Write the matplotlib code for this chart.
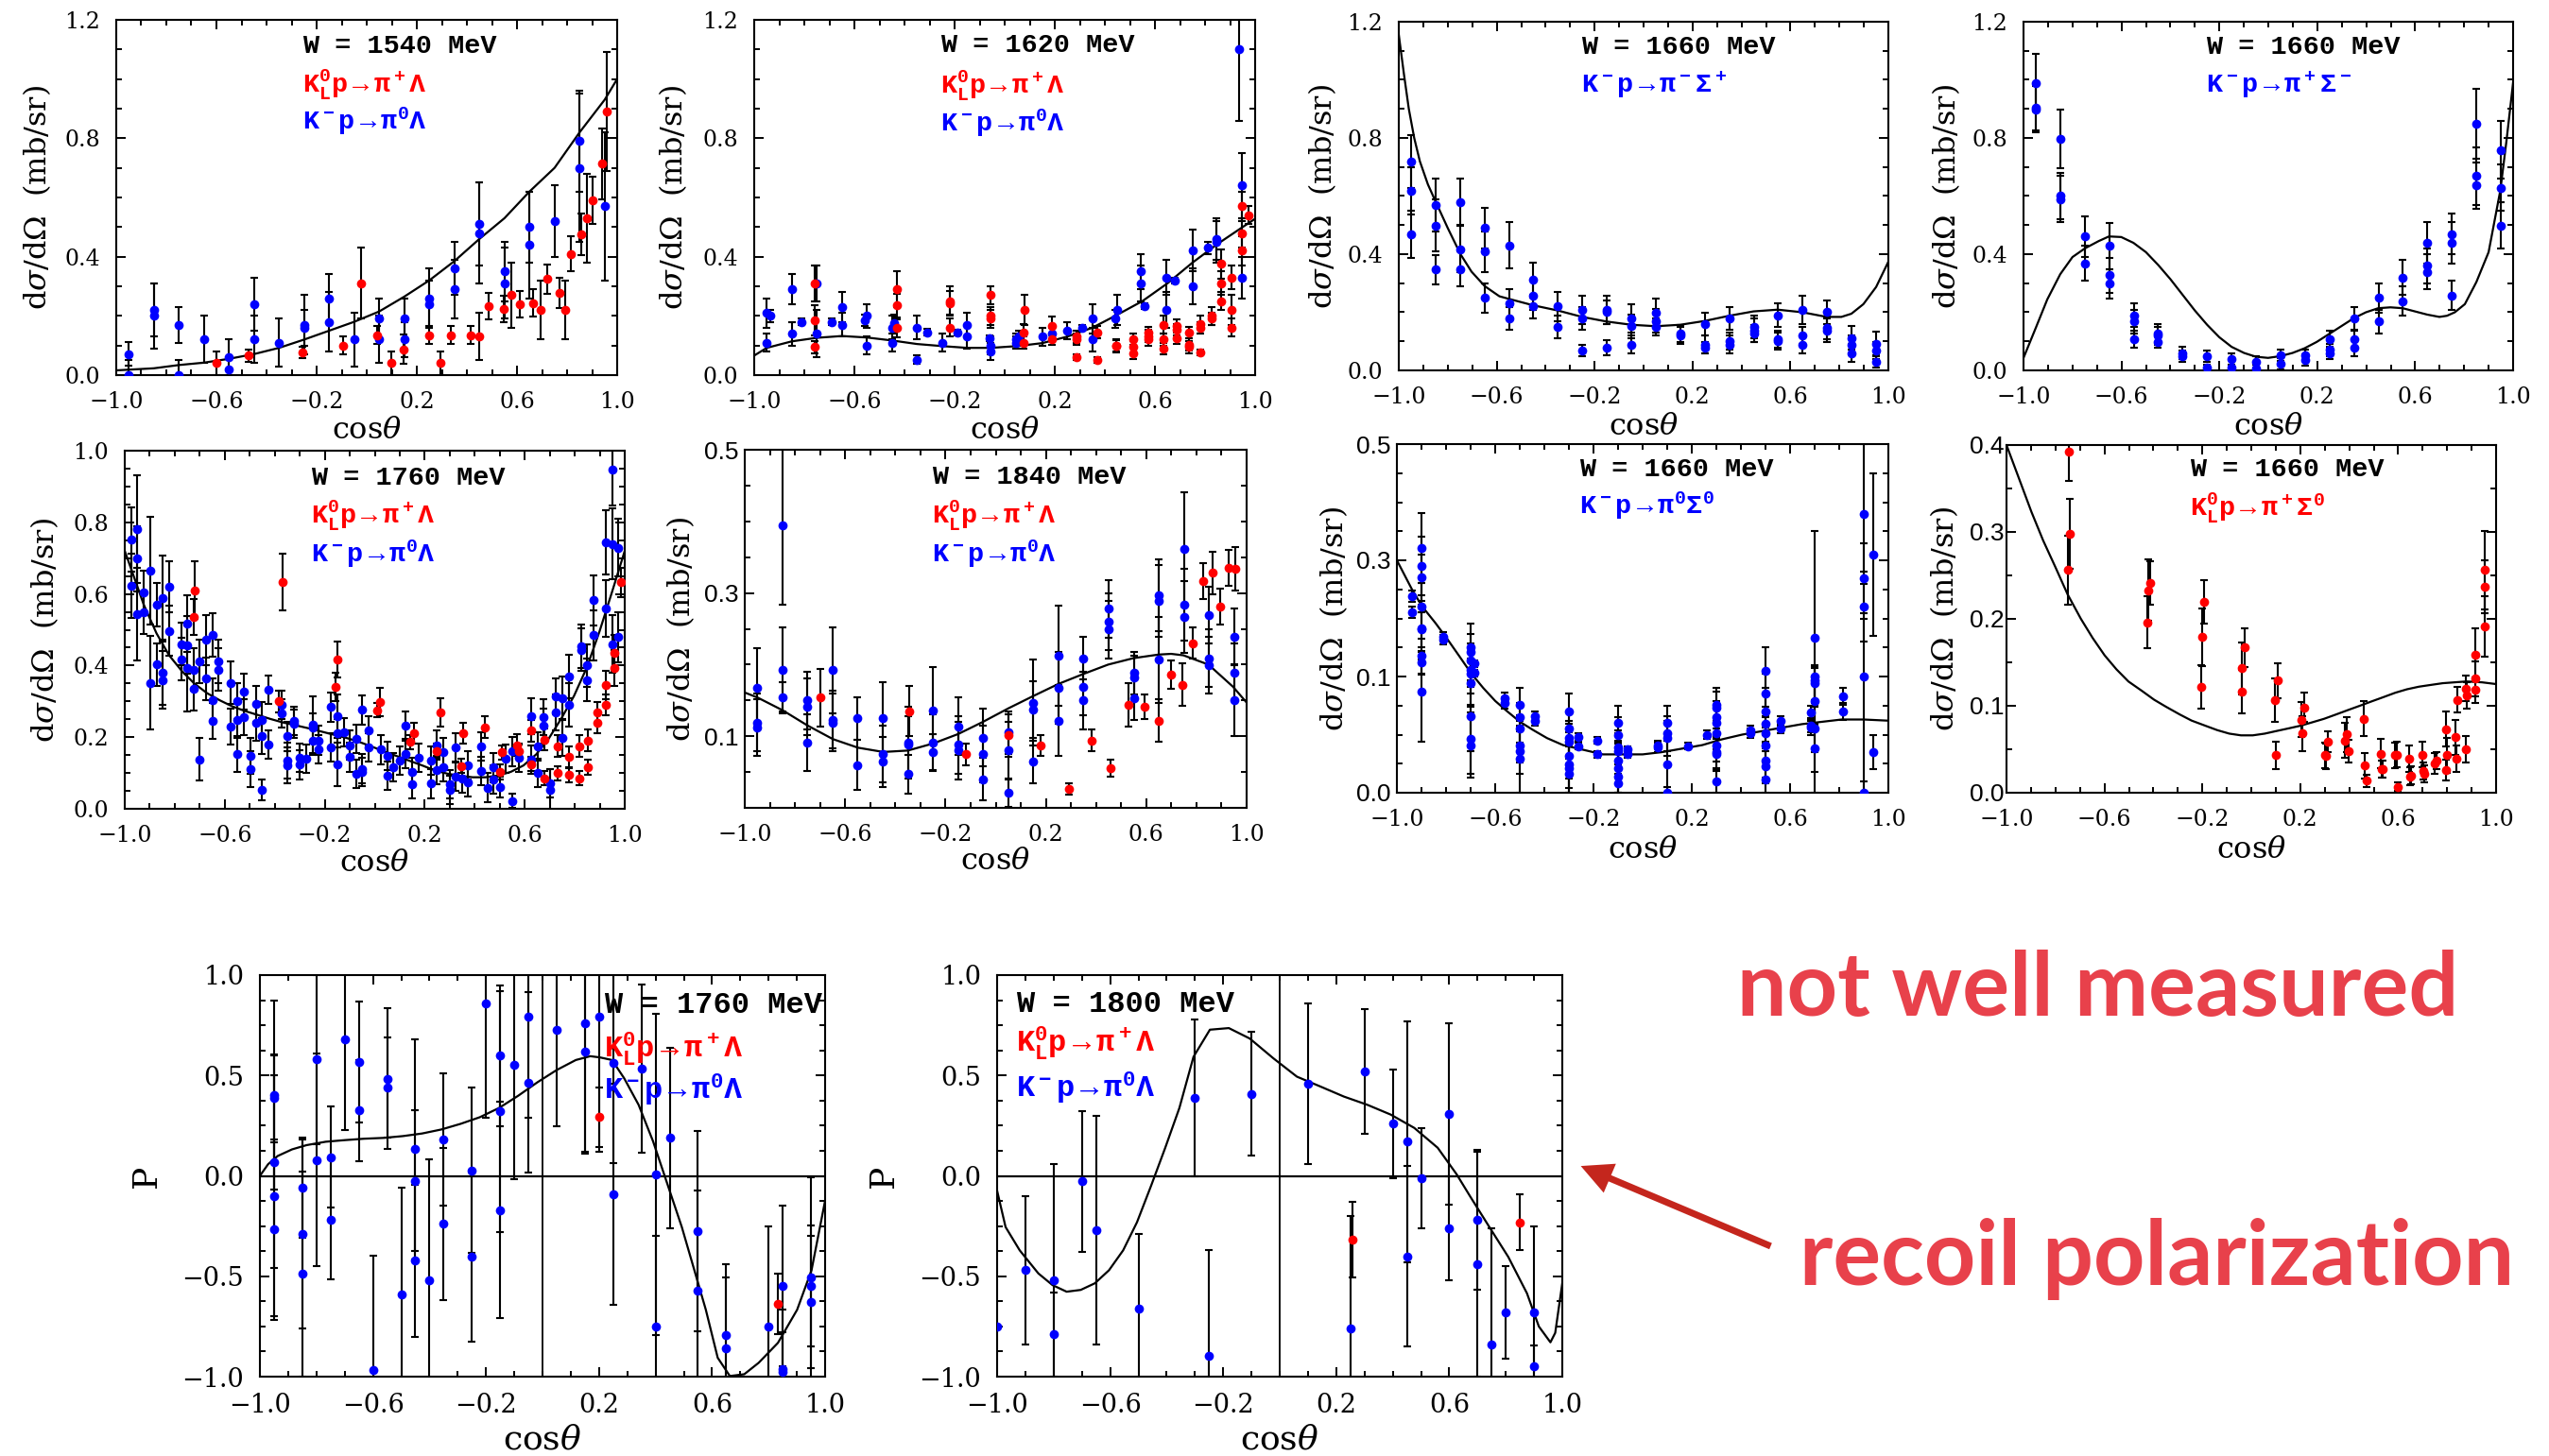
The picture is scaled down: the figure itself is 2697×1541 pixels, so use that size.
import matplotlib
matplotlib.use("Agg")
import matplotlib.pyplot as plt
import numpy as np
from matplotlib.patches import FancyArrowPatch
from matplotlib.ticker import MultipleLocator, FixedLocator

plt.rcParams['font.family'] = 'DejaVu Serif'
plt.rcParams['mathtext.fontset'] = 'custom'
plt.rcParams['mathtext.rm'] = 'Liberation Mono:bold'
plt.rcParams['mathtext.bf'] = 'Liberation Mono:bold'
plt.rcParams['mathtext.it'] = 'DejaVu Serif:italic'

# ---------------- data: (cos theta, value, error) ----------------
# W = 1540 MeV, K- p -> pi0 Lambda (blue) / KL p -> pi+ Lambda (red)
p1_blue = [
    (-0.95, 0.071, 0.04), (-0.95, 0.0, 0.05), (-0.85, 0.22, 0.09), (-0.85, 0.20, 0.11),
    (-0.75, 0.17, 0.06), (-0.75, 0.0, 0.05), (-0.65, 0.12, 0.08), (-0.55, 0.06, 0.06),
    (-0.55, 0.02, 0.04), (-0.45, 0.24, 0.09), (-0.45, 0.12, 0.08), (-0.35, 0.11, 0.08),
    (-0.25, 0.17, 0.10), (-0.25, 0.16, 0.06), (-0.15, 0.26, 0.08), (-0.15, 0.18, 0.10),
    (-0.05, 0.12, 0.09), (0.05, 0.19, 0.07), (0.05, 0.12, 0.08), (0.15, 0.19, 0.07),
    (0.15, 0.12, 0.06), (0.25, 0.26, 0.10), (0.25, 0.24, 0.08), (0.35, 0.36, 0.09),
    (0.35, 0.29, 0.10), (0.45, 0.51, 0.14), (0.45, 0.48, 0.17), (0.55, 0.35, 0.10),
    (0.55, 0.31, 0.12), (0.65, 0.50, 0.12), (0.65, 0.44, 0.18), (0.75, 0.52, 0.12),
    (0.85, 0.79, 0.17), (0.85, 0.70, 0.25), (0.95, 0.57, 0.25),
]
p1_red = [
    (-0.60, 0.04, 0.04), (-0.47, 0.066, 0.02), (-0.255, 0.077, 0.02), (-0.094, 0.10, 0.03),
    (-0.023, 0.31, 0.12), (0.041, 0.135, 0.03), (0.099, 0.04, 0.04), (0.149, 0.087, 0.05),
    (0.249, 0.135, 0.03), (0.294, 0.04, 0.04), (0.334, 0.135, 0.03), (0.415, 0.135, 0.03),
    (0.449, 0.13, 0.08), (0.486, 0.234, 0.045), (0.547, 0.223, 0.045), (0.579, 0.27, 0.11),
    (0.612, 0.24, 0.045), (0.665, 0.244, 0.045), (0.693, 0.22, 0.10), (0.719, 0.324, 0.05),
    (0.769, 0.278, 0.05), (0.791, 0.22, 0.10), (0.815, 0.41, 0.06), (0.858, 0.475, 0.07),
    (0.879, 0.53, 0.15), (0.901, 0.59, 0.08), (0.941, 0.714, 0.12), (0.96, 0.89, 0.20),
]
p1_fit_x = [-1.0, -0.85, -0.75, -0.65, -0.55, -0.45, -0.35, -0.25, -0.15, -0.05, 0.05,
            0.15, 0.25, 0.35, 0.45, 0.55, 0.65, 0.75, 0.85, 0.95, 1.0]
p1_fit_y = [0.016, 0.023, 0.034, 0.042, 0.055, 0.071, 0.092, 0.12, 0.15, 0.18, 0.215,
            0.265, 0.32, 0.385, 0.46, 0.53, 0.62, 0.70, 0.82, 0.93, 1.0]

# W = 1620 MeV
p2_blue = [
    (-0.95, 0.21, 0.05), (-0.95, 0.11, 0.03), (-0.935, 0.20, 0.02), (-0.85, 0.29, 0.05),
    (-0.85, 0.14, 0.04), (-0.81, 0.18, 0.01), (-0.75, 0.31, 0.06), (-0.75, 0.14, 0.08),
    (-0.69, 0.18, 0.01), (-0.65, 0.23, 0.05), (-0.65, 0.17, 0.04), (-0.56, 0.185, 0.02),
    (-0.55, 0.20, 0.04), (-0.55, 0.10, 0.03), (-0.45, 0.16, 0.04), (-0.45, 0.11, 0.03),
    (-0.44, 0.175, 0.03), (-0.35, 0.16, 0.04), (-0.35, 0.052, 0.015), (-0.31, 0.145, 0.01),
    (-0.25, 0.11, 0.03), (-0.19, 0.143, 0.01), (-0.15, 0.17, 0.04), (-0.15, 0.13, 0.04),
    (-0.06, 0.124, 0.01), (-0.055, 0.10, 0.03), (-0.055, 0.08, 0.03), (0.047, 0.12, 0.02),
    (0.056, 0.13, 0.02), (0.047, 0.11, 0.02), (0.15, 0.13, 0.03), (0.19, 0.14, 0.02),
    (0.25, 0.15, 0.03), (0.31, 0.16, 0.01), (0.35, 0.19, 0.05), (0.35, 0.12, 0.04),
    (0.44, 0.19, 0.03), (0.45, 0.22, 0.05), (0.545, 0.35, 0.06), (0.545, 0.31, 0.06),
    (0.56, 0.234, 0.01), (0.645, 0.33, 0.06), (0.645, 0.22, 0.06), (0.68, 0.32, 0.01),
    (0.75, 0.42, 0.07), (0.75, 0.30, 0.06), (0.81, 0.43, 0.02), (0.845, 0.46, 0.07),
    (0.845, 0.45, 0.07), (0.935, 1.10, 0.24), (0.946, 0.64, 0.11), (0.946, 0.33, 0.07),
]
p2_red = [
    (-0.76, 0.31, 0.06), (-0.76, 0.185, 0.05), (-0.76, 0.095, 0.02), (-0.43, 0.29, 0.06),
    (-0.43, 0.235, 0.04), (-0.43, 0.158, 0.03), (-0.22, 0.25, 0.05), (-0.22, 0.244, 0.04),
    (-0.22, 0.16, 0.03), (-0.055, 0.27, 0.03), (-0.055, 0.20, 0.03), (-0.055, 0.19, 0.03),
    (0.08, 0.22, 0.05), (0.076, 0.143, 0.03), (0.076, 0.11, 0.02), (0.19, 0.167, 0.03),
    (0.19, 0.122, 0.02), (0.285, 0.13, 0.02), (0.285, 0.122, 0.02), (0.285, 0.06, 0.01),
    (0.37, 0.145, 0.02), (0.37, 0.052, 0.01), (0.447, 0.10, 0.02), (0.447, 0.098, 0.02),
    (0.514, 0.122, 0.02), (0.514, 0.095, 0.02), (0.514, 0.074, 0.02), (0.575, 0.143, 0.02),
    (0.575, 0.132, 0.02), (0.575, 0.12, 0.02), (0.635, 0.17, 0.03), (0.635, 0.12, 0.02),
    (0.635, 0.09, 0.02), (0.688, 0.167, 0.02), (0.688, 0.153, 0.02), (0.688, 0.124, 0.02),
    (0.735, 0.143, 0.02), (0.735, 0.103, 0.02), (0.735, 0.095, 0.02), (0.783, 0.172, 0.03),
    (0.783, 0.16, 0.02), (0.783, 0.077, 0.01), (0.825, 0.20, 0.03), (0.825, 0.19, 0.02),
    (0.866, 0.376, 0.05), (0.866, 0.31, 0.04), (0.866, 0.25, 0.03), (0.905, 0.33, 0.04),
    (0.905, 0.22, 0.05), (0.905, 0.16, 0.03), (0.946, 0.57, 0.05), (0.946, 0.48, 0.05),
    (0.946, 0.42, 0.05), (0.975, 0.54, 0.03),
]
p2_fit_x = [-1.0, -0.95, -0.85, -0.75, -0.65, -0.55, -0.45, -0.35, -0.25, -0.15, -0.055,
            0.05, 0.15, 0.25, 0.35, 0.45, 0.55, 0.65, 0.75, 0.85, 0.95, 1.0]
p2_fit_y = [0.066, 0.092, 0.114, 0.126, 0.132, 0.127, 0.117, 0.105, 0.098, 0.092, 0.092,
            0.098, 0.108, 0.13, 0.16, 0.204, 0.25, 0.31, 0.38, 0.443, 0.50, 0.528]

# W = 1660 MeV, K- p -> pi- Sigma+
p3_blue = [
    (-0.95, 0.719, 0.09), (-0.95, 0.618, 0.08), (-0.95, 0.468, 0.08),
    (-0.85, 0.569, 0.09), (-0.85, 0.499, 0.09), (-0.85, 0.347, 0.05),
    (-0.75, 0.58, 0.08), (-0.75, 0.417, 0.08), (-0.75, 0.349, 0.06),
    (-0.65, 0.49, 0.07), (-0.65, 0.409, 0.07), (-0.65, 0.249, 0.05),
    (-0.55, 0.43, 0.08), (-0.55, 0.23, 0.05), (-0.55, 0.179, 0.04),
    (-0.45, 0.311, 0.06), (-0.45, 0.258, 0.05), (-0.45, 0.22, 0.04),
    (-0.35, 0.22, 0.05), (-0.35, 0.15, 0.04),
    (-0.25, 0.208, 0.05), (-0.25, 0.179, 0.04), (-0.25, 0.068, 0.02),
    (-0.15, 0.208, 0.05), (-0.15, 0.20, 0.04), (-0.15, 0.078, 0.025),
    (-0.05, 0.179, 0.05), (-0.05, 0.152, 0.04), (-0.05, 0.089, 0.03),
    (0.05, 0.198, 0.05), (0.05, 0.17, 0.04), (0.05, 0.149, 0.03),
    (0.15, 0.127, 0.03), (0.15, 0.12, 0.03),
    (0.25, 0.159, 0.04), (0.25, 0.089, 0.03), (0.25, 0.078, 0.02),
    (0.35, 0.179, 0.04), (0.35, 0.10, 0.03), (0.35, 0.089, 0.03),
    (0.45, 0.15, 0.04), (0.45, 0.138, 0.04), (0.45, 0.127, 0.03),
    (0.55, 0.19, 0.04), (0.55, 0.108, 0.03), (0.55, 0.10, 0.03),
    (0.65, 0.208, 0.05), (0.65, 0.12, 0.03), (0.65, 0.089, 0.03),
    (0.75, 0.20, 0.04), (0.75, 0.146, 0.04), (0.75, 0.138, 0.04),
    (0.85, 0.112, 0.04), (0.85, 0.089, 0.03), (0.85, 0.06, 0.03),
    (0.95, 0.092, 0.04), (0.95, 0.068, 0.03), (0.95, 0.029, 0.02),
]
p3_fit_x = [-1.0, -0.979, -0.959, -0.937, -0.914, -0.881, -0.849, -0.80, -0.748, -0.703,
            -0.649, -0.589, -0.55, -0.451, -0.35, -0.251, -0.15, -0.05, 0.05, 0.15, 0.249,
            0.35, 0.449, 0.548, 0.649, 0.748, 0.808, 0.849, 0.898, 0.95, 1.0]
p3_fit_y = [1.155, 1.02, 0.90, 0.80, 0.72, 0.64, 0.58, 0.49, 0.40, 0.34, 0.29, 0.255,
            0.246, 0.224, 0.206, 0.184, 0.168, 0.157, 0.152, 0.157, 0.17, 0.188, 0.203,
            0.209, 0.20, 0.184, 0.184, 0.195, 0.228, 0.287, 0.374]

# W = 1660 MeV, K- p -> pi+ Sigma-
p4_blue = [
    (-0.95, 0.99, 0.1), (-0.95, 0.905, 0.08), (-0.95, 0.898, 0.08),
    (-0.85, 0.797, 0.1), (-0.85, 0.60, 0.08), (-0.85, 0.589, 0.08),
    (-0.75, 0.461, 0.07), (-0.75, 0.369, 0.06),
    (-0.65, 0.428, 0.08), (-0.65, 0.327, 0.06), (-0.65, 0.298, 0.05),
    (-0.55, 0.19, 0.04), (-0.55, 0.168, 0.04), (-0.55, 0.108, 0.03),
    (-0.45, 0.128, 0.03), (-0.45, 0.119, 0.03), (-0.45, 0.098, 0.02),
    (-0.35, 0.06, 0.02), (-0.35, 0.049, 0.02),
    (-0.25, 0.049, 0.02), (-0.25, 0.011, 0.01),
    (-0.15, 0.038, 0.02), (-0.15, 0.011, 0.01),
    (-0.05, 0.029, 0.02), (-0.05, 0.008, 0.01),
    (0.05, 0.051, 0.02), (0.05, 0.022, 0.02),
    (0.15, 0.051, 0.02), (0.15, 0.035, 0.02),
    (0.25, 0.108, 0.03), (0.25, 0.07, 0.02), (0.25, 0.06, 0.02),
    (0.35, 0.179, 0.04), (0.35, 0.108, 0.03), (0.35, 0.078, 0.03),
    (0.45, 0.249, 0.05), (0.45, 0.168, 0.04),
    (0.55, 0.32, 0.06), (0.55, 0.238, 0.05),
    (0.65, 0.439, 0.07), (0.65, 0.36, 0.06), (0.65, 0.339, 0.06),
    (0.75, 0.469, 0.07), (0.75, 0.439, 0.07), (0.75, 0.258, 0.05),
    (0.85, 0.848, 0.12), (0.85, 0.669, 0.10), (0.85, 0.637, 0.08),
    (0.95, 0.759, 0.10), (0.95, 0.629, 0.08), (0.95, 0.499, 0.08),
]
p4_fit_x = [-1.0, -0.95, -0.903, -0.85, -0.80, -0.749, -0.693, -0.651, -0.601, -0.551,
            -0.50, -0.45, -0.40, -0.35, -0.30, -0.25, -0.20, -0.15, -0.099, -0.051,
            -0.001, 0.049, 0.099, 0.148, 0.198, 0.248, 0.298, 0.348, 0.399, 0.449, 0.499,
            0.549, 0.599, 0.649, 0.699, 0.73, 0.762, 0.803, 0.85, 0.90, 0.948, 0.973, 1.0]
p4_fit_y = [0.043, 0.146, 0.244, 0.331, 0.39, 0.42, 0.445, 0.461, 0.459, 0.439, 0.407,
            0.363, 0.314, 0.26, 0.206, 0.157, 0.114, 0.081, 0.06, 0.047, 0.043, 0.049, 0.06,
            0.076, 0.098, 0.125, 0.152, 0.179, 0.20, 0.214, 0.217, 0.214, 0.203, 0.192,
            0.184, 0.188, 0.20, 0.228, 0.304, 0.407, 0.62, 0.79, 0.99]

# W = 1760 MeV, differential cross section
p5_blue = [
    (-0.975, 0.751, 0.09), (-0.975, 0.623, 0.09), (-0.949, 0.781, 0.15), (-0.949, 0.698, 0.09),
    (-0.949, 0.544, 0.13), (-0.924, 0.605, 0.06), (-0.924, 0.548, 0.06), (-0.899, 0.665, 0.15),
    (-0.899, 0.352, 0.13), (-0.873, 0.570, 0.06), (-0.873, 0.403, 0.06), (-0.848, 0.588, 0.12),
    (-0.848, 0.381, 0.09), (-0.848, 0.360, 0.08), (-0.823, 0.620, 0.07), (-0.823, 0.497, 0.07),
    (-0.772, 0.46, 0.06), (-0.772, 0.418, 0.06), (-0.75, 0.517, 0.08), (-0.75, 0.457, 0.08),
    (-0.75, 0.392, 0.12), (-0.725, 0.389, 0.06), (-0.725, 0.334, 0.06), (-0.70, 0.411, 0.06),
    (-0.70, 0.138, 0.06), (-0.674, 0.471, 0.07), (-0.674, 0.363, 0.06), (-0.649, 0.486, 0.06),
    (-0.649, 0.303, 0.06), (-0.649, 0.246, 0.05), (-0.624, 0.411, 0.06), (-0.624, 0.389, 0.06),
    (-0.575, 0.352, 0.06), (-0.575, 0.229, 0.05), (-0.549, 0.301, 0.05), (-0.549, 0.248, 0.05),
    (-0.549, 0.152, 0.05), (-0.524, 0.328, 0.05), (-0.524, 0.257, 0.05), (-0.499, 0.147, 0.05),
    (-0.499, 0.110, 0.05), (-0.475, 0.293, 0.05), (-0.475, 0.24, 0.05), (-0.45, 0.248, 0.05),
    (-0.45, 0.203, 0.05), (-0.45, 0.053, 0.03), (-0.424, 0.332, 0.04), (-0.424, 0.18, 0.04),
    (-0.374, 0.29, 0.04), (-0.374, 0.266, 0.04), (-0.35, 0.202, 0.04), (-0.35, 0.134, 0.05),
    (-0.35, 0.121, 0.05), (-0.325, 0.246, 0.04), (-0.325, 0.237, 0.04), (-0.30, 0.143, 0.04),
    (-0.30, 0.123, 0.04), (-0.274, 0.14, 0.04), (-0.249, 0.235, 0.08), (-0.249, 0.226, 0.04),
    (-0.249, 0.191, 0.04), (-0.224, 0.191, 0.04), (-0.224, 0.167, 0.04), (-0.175, 0.284, 0.04),
    (-0.175, 0.171, 0.04), (-0.149, 0.259, 0.06), (-0.149, 0.211, 0.04), (-0.149, 0.124, 0.06),
    (-0.124, 0.213, 0.04), (-0.10, 0.178, 0.04), (-0.10, 0.144, 0.04), (-0.075, 0.196, 0.04),
    (-0.075, 0.097, 0.04), (-0.05, 0.276, 0.04), (-0.05, 0.112, 0.04), (-0.05, 0.103, 0.04),
    (-0.024, 0.218, 0.04), (-0.024, 0.171, 0.04), (0.024, 0.165, 0.04), (0.05, 0.147, 0.04),
    (0.05, 0.093, 0.04), (0.073, 0.116, 0.04), (0.099, 0.134, 0.04), (0.124, 0.231, 0.04),
    (0.124, 0.154, 0.04), (0.149, 0.103, 0.04), (0.149, 0.068, 0.04), (0.175, 0.143, 0.04),
    (0.224, 0.134, 0.04), (0.224, 0.070, 0.04), (0.249, 0.178, 0.04), (0.249, 0.109, 0.04),
    (0.274, 0.158, 0.04), (0.274, 0.116, 0.04), (0.30, 0.068, 0.04), (0.30, 0.053, 0.04),
    (0.325, 0.171, 0.04), (0.325, 0.09, 0.04), (0.35, 0.085, 0.04), (0.374, 0.121, 0.04),
    (0.374, 0.074, 0.04), (0.424, 0.175, 0.04), (0.424, 0.105, 0.04), (0.45, 0.059, 0.04),
    (0.475, 0.115, 0.04), (0.475, 0.081, 0.04), (0.50, 0.061, 0.03), (0.524, 0.14, 0.04),
    (0.549, 0.16, 0.04), (0.549, 0.022, 0.02), (0.575, 0.143, 0.04), (0.625, 0.259, 0.05),
    (0.625, 0.137, 0.04), (0.651, 0.174, 0.04), (0.651, 0.101, 0.04), (0.676, 0.257, 0.05),
    (0.676, 0.231, 0.05), (0.70, 0.072, 0.04), (0.70, 0.052, 0.06), (0.725, 0.315, 0.05),
    (0.725, 0.27, 0.05), (0.75, 0.31, 0.06), (0.75, 0.197, 0.05), (0.776, 0.369, 0.06),
    (0.776, 0.29, 0.06), (0.826, 0.454, 0.06), (0.826, 0.444, 0.06), (0.85, 0.40, 0.06),
    (0.85, 0.36, 0.06), (0.875, 0.583, 0.07), (0.875, 0.485, 0.07), (0.926, 0.744, 0.09),
    (0.926, 0.559, 0.08), (0.949, 0.947, 0.10), (0.949, 0.74, 0.10), (0.949, 0.46, 0.08),
    (0.975, 0.729, 0.08), (0.975, 0.479, 0.07),
]
p5_red = [
    (-0.725, 0.535, 0.05), (-0.722, 0.61, 0.08), (-0.37, 0.633, 0.08), (-0.384, 0.30, 0.03),
    (-0.158, 0.341, 0.04), (-0.148, 0.418, 0.05), (0.011, 0.275, 0.02), (0.021, 0.299, 0.04),
    (0.143, 0.187, 0.02), (0.156, 0.211, 0.03), (0.249, 0.162, 0.02), (0.262, 0.269, 0.04),
    (0.355, 0.211, 0.03), (0.44, 0.228, 0.03), (0.345, 0.119, 0.02), (0.50, 0.103, 0.02),
    (0.509, 0.158, 0.02), (0.568, 0.178, 0.03), (0.575, 0.16, 0.02), (0.624, 0.218, 0.03),
    (0.624, 0.125, 0.02), (0.679, 0.193, 0.03), (0.679, 0.085, 0.02), (0.73, 0.175, 0.03),
    (0.73, 0.099, 0.02), (0.776, 0.145, 0.03), (0.776, 0.094, 0.02), (0.818, 0.175, 0.03),
    (0.818, 0.085, 0.02), (0.853, 0.191, 0.03), (0.853, 0.116, 0.02), (0.89, 0.268, 0.03),
    (0.89, 0.24, 0.03), (0.924, 0.345, 0.04), (0.924, 0.29, 0.03), (0.958, 0.435, 0.05),
    (0.958, 0.394, 0.05), (0.983, 0.632, 0.04),
]
p5_fit_x = [-1.0, -0.975, -0.924, -0.873, -0.823, -0.772, -0.722, -0.671, -0.62, -0.57,
            -0.519, -0.468, -0.418, -0.367, -0.316, -0.266, -0.215, -0.165, -0.114, -0.063,
            -0.013, 0.038, 0.089, 0.139, 0.19, 0.241, 0.291, 0.342, 0.392, 0.443, 0.494,
            0.544, 0.595, 0.646, 0.696, 0.747, 0.797, 0.848, 0.899, 0.949, 1.0]
p5_fit_y = [0.72, 0.671, 0.57, 0.49, 0.429, 0.385, 0.35, 0.323, 0.303, 0.286, 0.273, 0.262,
            0.251, 0.241, 0.233, 0.225, 0.216, 0.207, 0.198, 0.187, 0.174, 0.16, 0.147,
            0.134, 0.121, 0.107, 0.098, 0.092, 0.088, 0.088, 0.093, 0.103, 0.121, 0.152,
            0.196, 0.253, 0.315, 0.394, 0.495, 0.605, 0.72]

# W = 1840 MeV
p6_blue = [
    (-0.95, 0.168, 0.055), (-0.95, 0.119, 0.04), (-0.95, 0.112, 0.04),
    (-0.85, 0.394, 0.11), (-0.85, 0.192, 0.06), (-0.85, 0.155, 0.02),
    (-0.75, 0.15, 0.04), (-0.75, 0.141, 0.04), (-0.75, 0.091, 0.04),
    (-0.65, 0.192, 0.06), (-0.65, 0.123, 0.04), (-0.65, 0.119, 0.04),
    (-0.55, 0.125, 0.03), (-0.55, 0.06, 0.035),
    (-0.45, 0.125, 0.05), (-0.45, 0.075, 0.04), (-0.45, 0.064, 0.035),
    (-0.35, 0.091, 0.05), (-0.35, 0.088, 0.04), (-0.35, 0.047, 0.027),
    (-0.25, 0.136, 0.06), (-0.25, 0.091, 0.04), (-0.25, 0.078, 0.025),
    (-0.15, 0.114, 0.04), (-0.15, 0.088, 0.04), (-0.15, 0.08, 0.04),
    (-0.05, 0.098, 0.04), (-0.05, 0.075, 0.04), (-0.05, 0.04, 0.03),
    (0.05, 0.105, 0.03), (0.05, 0.08, 0.04), (0.05, 0.021, 0.02),
    (0.15, 0.147, 0.06), (0.15, 0.137, 0.04), (0.15, 0.064, 0.03),
    (0.25, 0.212, 0.07), (0.25, 0.168, 0.05), (0.25, 0.122, 0.05),
    (0.35, 0.209, 0.03), (0.35, 0.169, 0.04), (0.35, 0.15, 0.04),
    (0.45, 0.278, 0.04), (0.45, 0.26, 0.04), (0.45, 0.249, 0.04),
    (0.55, 0.188, 0.03), (0.55, 0.182, 0.03), (0.55, 0.153, 0.03),
    (0.65, 0.297, 0.05), (0.65, 0.289, 0.05), (0.65, 0.207, 0.06),
    (0.75, 0.361, 0.08), (0.75, 0.284, 0.05), (0.75, 0.267, 0.05),
    (0.85, 0.269, 0.04), (0.85, 0.209, 0.04), (0.85, 0.199, 0.04),
    (0.95, 0.239, 0.04), (0.95, 0.189, 0.04), (0.95, 0.15, 0.05),
]
p6_red = [
    (-0.70, 0.154, 0.04), (-0.345, 0.135, 0.035), (-0.118, 0.075, 0.015), (0.05, 0.101, 0.03),
    (0.18, 0.087, 0.015), (0.291, 0.026, 0.008), (0.382, 0.094, 0.015), (0.459, 0.055, 0.012),
    (0.529, 0.144, 0.03), (0.592, 0.141, 0.017), (0.649, 0.122, 0.03), (0.698, 0.186, 0.02),
    (0.745, 0.172, 0.03), (0.786, 0.23, 0.022), (0.827, 0.317, 0.025), (0.863, 0.328, 0.03),
    (0.895, 0.281, 0.025), (0.928, 0.335, 0.025), (0.956, 0.334, 0.03),
]
p6_fit_x = [-1.0, -0.949, -0.848, -0.75, -0.649, -0.549, -0.448, -0.35, -0.248, -0.15,
            -0.051, 0.051, 0.149, 0.25, 0.35, 0.448, 0.549, 0.649, 0.699, 0.748, 0.848,
            0.946, 1.0]
p6_fit_y = [0.161, 0.154, 0.136, 0.115, 0.096, 0.084, 0.078, 0.08, 0.09, 0.103, 0.12,
            0.139, 0.156, 0.173, 0.187, 0.20, 0.209, 0.214, 0.215, 0.213, 0.20, 0.169, 0.147]

# W = 1660 MeV, K- p -> pi0 Sigma0
p7_blue = [
    (-0.94, 0.238, 0.01), (-0.94, 0.211, 0.01),
    (-0.90, 0.321, 0.06), (-0.90, 0.29, 0.05), (-0.90, 0.27, 0.04), (-0.90, 0.221, 0.04),
    (-0.90, 0.183, 0.04), (-0.90, 0.181, 0.03), (-0.90, 0.135, 0.03), (-0.90, 0.124, 0.02),
    (-0.90, 0.087, 0.043),
    (-0.81, 0.168, 0.008), (-0.81, 0.164, 0.008),
    (-0.70, 0.151, 0.04), (-0.70, 0.143, 0.03), (-0.70, 0.127, 0.03), (-0.70, 0.111, 0.02),
    (-0.70, 0.105, 0.02), (-0.70, 0.094, 0.02), (-0.70, 0.066, 0.03), (-0.70, 0.046, 0.03),
    (-0.70, 0.041, 0.028),
    (-0.684, 0.122, 0.006), (-0.684, 0.106, 0.006),
    (-0.56, 0.081, 0.005), (-0.56, 0.077, 0.005),
    (-0.50, 0.076, 0.014), (-0.50, 0.065, 0.012), (-0.50, 0.055, 0.012), (-0.50, 0.041, 0.015),
    (-0.50, 0.036, 0.02), (-0.50, 0.029, 0.029),
    (-0.44, 0.066, 0.004), (-0.44, 0.062, 0.004),
    (-0.30, 0.07, 0.015), (-0.30, 0.055, 0.015), (-0.30, 0.047, 0.015), (-0.30, 0.044, 0.015),
    (-0.30, 0.032, 0.02), (-0.30, 0.024, 0.02), (-0.30, 0.021, 0.021), (-0.30, 0.016, 0.016),
    (-0.263, 0.048, 0.003), (-0.263, 0.04, 0.003),
    (-0.186, 0.045, 0.003), (-0.186, 0.033, 0.003),
    (-0.10, 0.06, 0.015), (-0.10, 0.05, 0.015), (-0.10, 0.039, 0.015), (-0.10, 0.036, 0.015),
    (-0.10, 0.028, 0.015), (-0.10, 0.021, 0.021), (-0.10, 0.014, 0.014), (-0.10, 0.008, 0.008),
    (-0.062, 0.037, 0.003), (-0.062, 0.033, 0.003),
    (0.062, 0.041, 0.004), (0.062, 0.039, 0.004),
    (0.10, 0.06, 0.015), (0.10, 0.051, 0.015), (0.10, 0.047, 0.015), (0.10, 0.024, 0.024),
    (0.10, 0.0, 0.005),
    (0.186, 0.04, 0.003), (0.263, 0.05, 0.004),
    (0.30, 0.076, 0.014), (0.30, 0.073, 0.014), (0.30, 0.065, 0.014), (0.30, 0.06, 0.014),
    (0.30, 0.051, 0.014), (0.30, 0.041, 0.014), (0.30, 0.035, 0.014), (0.30, 0.033, 0.014),
    (0.30, 0.01, 0.01),
    (0.438, 0.054, 0.004), (0.438, 0.051, 0.004),
    (0.50, 0.11, 0.04), (0.50, 0.085, 0.02), (0.50, 0.07, 0.02), (0.50, 0.059, 0.015),
    (0.50, 0.051, 0.015), (0.50, 0.041, 0.015), (0.50, 0.028, 0.015), (0.50, 0.023, 0.015),
    (0.50, 0.011, 0.011),
    (0.562, 0.062, 0.004), (0.562, 0.055, 0.004),
    (0.686, 0.069, 0.006), (0.686, 0.058, 0.006), (0.686, 0.056, 0.006),
    (0.70, 0.167, 0.184), (0.70, 0.10, 0.02), (0.70, 0.097, 0.02), (0.70, 0.094, 0.02),
    (0.70, 0.079, 0.02), (0.70, 0.055, 0.02), (0.70, 0.038, 0.02),
    (0.814, 0.083, 0.007), (0.814, 0.07, 0.007),
    (0.90, 0.38, 0.12), (0.90, 0.269, 0.06), (0.90, 0.22, 0.06), (0.90, 0.10, 0.10),
    (0.90, 0.0, 0.01),
    (0.937, 0.31, 0.14), (0.937, 0.035, 0.015),
]
p7_fit_x = [-1.0, -0.94, -0.898, -0.843, -0.794, -0.746, -0.697, -0.648, -0.60, -0.551,
            -0.499, -0.446, -0.389, -0.324, -0.243, -0.162, -0.081, 0.0, 0.081, 0.162, 0.243,
            0.324, 0.405, 0.486, 0.567, 0.648, 0.729, 0.81, 0.90, 1.0]
p7_fit_y = [0.30, 0.251, 0.221, 0.192, 0.164, 0.135, 0.105, 0.09, 0.079, 0.07, 0.061, 0.054,
            0.047, 0.041, 0.037, 0.033, 0.033, 0.033, 0.035, 0.038, 0.041, 0.046, 0.05,
            0.053, 0.056, 0.059, 0.061, 0.063, 0.063, 0.062]

# W = 1660 MeV, KL p -> pi+ Sigma0
p8_red = [
    (-0.745, 0.392, 0.033), (-0.74, 0.298, 0.04), (-0.75, 0.256, 0.04), (-0.422, 0.233, 0.035),
    (-0.414, 0.241, 0.025), (-0.425, 0.196, 0.03), (-0.192, 0.22, 0.025), (-0.20, 0.179, 0.033),
    (-0.204, 0.122, 0.025), (-0.026, 0.167, 0.022), (-0.037, 0.143, 0.03), (-0.04, 0.116, 0.025),
    (0.108, 0.129, 0.02), (0.095, 0.107, 0.025), (0.099, 0.043, 0.016), (0.216, 0.098, 0.017),
    (0.205, 0.084, 0.02), (0.21, 0.068, 0.02), (0.313, 0.059, 0.012), (0.302, 0.043, 0.015),
    (0.305, 0.042, 0.015), (0.389, 0.067, 0.02), (0.397, 0.048, 0.013), (0.383, 0.06, 0.02),
    (0.46, 0.085, 0.02), (0.464, 0.031, 0.015), (0.47, 0.014, 0.007), (0.528, 0.045, 0.017),
    (0.536, 0.027, 0.01), (0.532, 0.027, 0.01), (0.588, 0.043, 0.015), (0.596, 0.044, 0.015),
    (0.599, 0.007, 0.005), (0.645, 0.039, 0.015), (0.653, 0.02, 0.01), (0.649, 0.019, 0.01),
    (0.698, 0.044, 0.015), (0.701, 0.025, 0.01), (0.706, 0.022, 0.01), (0.75, 0.034, 0.012),
    (0.758, 0.037, 0.01), (0.795, 0.073, 0.02), (0.798, 0.043, 0.02), (0.795, 0.026, 0.012),
    (0.842, 0.107, 0.015), (0.835, 0.064, 0.02), (0.838, 0.039, 0.015), (0.876, 0.12, 0.015),
    (0.879, 0.112, 0.015), (0.876, 0.05, 0.015), (0.916, 0.159, 0.03), (0.914, 0.131, 0.02),
    (0.916, 0.118, 0.015), (0.952, 0.256, 0.045), (0.955, 0.237, 0.03), (0.952, 0.191, 0.035),
]
p8_fit_x = [-1.0, -0.947, -0.898, -0.85, -0.801, -0.75, -0.696, -0.648, -0.599, -0.551,
            -0.502, -0.446, -0.397, -0.349, -0.292, -0.244, -0.187, -0.139, -0.09, -0.042,
            0.006, 0.055, 0.103, 0.152, 0.20, 0.249, 0.297, 0.346, 0.394, 0.443, 0.491, 0.54,
            0.588, 0.636, 0.685, 0.733, 0.782, 0.83, 0.879, 0.943, 1.0]
p8_fit_y = [0.40, 0.36, 0.323, 0.29, 0.26, 0.228, 0.20, 0.178, 0.158, 0.142, 0.128, 0.117,
            0.107, 0.099, 0.09, 0.083, 0.077, 0.072, 0.068, 0.066, 0.066, 0.068, 0.071,
            0.074, 0.077, 0.081, 0.085, 0.09, 0.095, 0.10, 0.105, 0.11, 0.115, 0.119, 0.122,
            0.124, 0.126, 0.127, 0.128, 0.127, 0.125]

# recoil polarization, W = 1760 MeV
p9_blue = [
    (-0.95, 0.404, 0.47), (-0.95, 0.387, 0.22), (-0.95, 0.069, 0.53), (-0.95, -0.099, 0.60),
    (-0.95, -0.267, 0.45), (-0.85, -0.058, 0.25), (-0.85, -0.288, 0.47), (-0.85, -0.489, 0.51),
    (-0.80, 0.58, 0.42), (-0.80, 0.079, 0.53), (-0.75, 0.094, 0.25), (-0.75, -0.217, 0.30),
    (-0.70, 0.679, 0.45), (-0.65, 0.568, 0.30), (-0.65, 0.325, 0.25), (-0.60, -0.969, 0.57),
    (-0.55, 0.483, 0.35), (-0.55, 0.44, 0.25), (-0.50, -0.59, 0.53), (-0.45, 0.132, 0.55),
    (-0.45, -0.025, 0.35), (-0.45, -0.423, 0.38), (-0.40, -0.519, 0.60), (-0.35, 0.181, 0.33),
    (-0.35, -0.239, 0.38), (-0.25, 0.028, 0.41), (-0.25, -0.404, 0.42), (-0.20, 0.86, 0.57),
    (-0.15, 0.598, 0.35), (-0.15, 0.321, 0.60), (-0.15, -0.17, 0.54), (-0.10, 0.552, 0.57),
    (-0.05, 0.791, 0.50), (-0.05, 0.465, 0.45), (0.05, 0.728, 0.48), (0.15, 0.761, 0.65),
    (0.15, 0.618, 0.50), (0.20, 0.791, 0.67), (0.25, 0.563, 0.50), (0.25, -0.091, 0.55),
    (0.35, 0.535, 0.42), (0.40, 0.005, 0.80), (0.40, -0.75, 0.45), (0.45, 0.189, 0.45),
    (0.55, -0.275, 0.50), (0.55, -0.572, 0.50), (0.65, -0.791, 0.35), (0.65, -0.857, 0.35),
    (0.80, -0.75, 0.50), (0.85, -0.549, 0.40), (0.85, -0.964, 0.30), (0.85, -0.977, 0.20),
    (0.95, -0.507, 0.50), (0.95, -0.549, 0.30), (0.95, -0.629, 0.33),
]
p9_red = [(0.20, 0.292, 0.15), (0.833, -0.638, 0.15)]
p9_fit_x = [-1.0, -0.971, -0.937, -0.886, -0.835, -0.767, -0.699, -0.631, -0.563, -0.494,
            -0.426, -0.358, -0.29, -0.222, -0.154, -0.086, -0.018, 0.05, 0.118, 0.169, 0.203,
            0.246, 0.289, 0.34, 0.391, 0.442, 0.493, 0.544, 0.578, 0.62, 0.663, 0.714, 0.765,
            0.833, 0.901, 0.952, 1.0]
p9_fit_y = [0.0, 0.058, 0.099, 0.132, 0.153, 0.17, 0.178, 0.185, 0.189, 0.198, 0.211, 0.231,
            0.259, 0.292, 0.338, 0.399, 0.466, 0.527, 0.577, 0.596, 0.59, 0.577, 0.486, 0.354,
            0.173, -0.041, -0.255, -0.502, -0.667, -0.906, -0.997, -0.988, -0.931, -0.832,
            -0.667, -0.47, -0.124]

# recoil polarization, W = 1800 MeV
p10_blue = [
    (-1.0, -0.75, 0.0), (-0.90, -0.47, 0.37), (-0.80, -0.519, 0.58), (-0.80, -0.79, 0.21),
    (-0.70, -0.028, 0.35), (-0.65, -0.269, 0.57), (-0.50, -0.659, 0.37), (-0.30, 0.387, 0.39),
    (-0.25, -0.898, 0.53), (-0.10, 0.409, 0.31), (0.10, 0.458, 0.40), (0.25, -0.758, 0.56),
    (0.30, 0.519, 0.31), (0.40, 0.259, 0.27), (0.45, 0.17, 0.60), (0.45, -0.40, 0.45),
    (0.50, -0.012, 0.25), (0.60, 0.308, 0.45), (0.60, -0.26, 0.26), (0.70, -0.219, 0.35),
    (0.70, -0.44, 0.56), (0.75, -0.84, 0.58), (0.80, -0.68, 0.23), (0.90, -0.68, 0.43),
    (0.90, -0.947, 0.10),
]
p10_red = [(0.258, -0.318, 0.19), (0.85, -0.231, 0.14)]
p10_fit_x = [-1.0, -0.97, -0.92, -0.854, -0.804, -0.754, -0.704, -0.654, -0.604, -0.554,
             -0.505, -0.455, -0.405, -0.355, -0.305, -0.247, -0.18, -0.106, -0.022, 0.061,
             0.144, 0.227, 0.31, 0.393, 0.476, 0.559, 0.626, 0.676, 0.742, 0.809, 0.875,
             0.917, 0.958, 0.975, 1.0]
p10_fit_y = [-0.074, -0.255, -0.371, -0.486, -0.544, -0.577, -0.568, -0.535, -0.47, -0.371,
             -0.231, -0.049, 0.14, 0.338, 0.593, 0.728, 0.736, 0.684, 0.585, 0.494, 0.445,
             0.395, 0.354, 0.305, 0.239, 0.14, 0.008, -0.107, -0.255, -0.404, -0.585, -0.75,
             -0.829, -0.782, -0.535]

# reaction labels
KL_LAM = r'$\mathrm{K_L^0p\rightarrow\pi^+\Lambda}$'
KM_LAM = r'$\mathrm{K^-p\rightarrow\pi^0\Lambda}$'
KM_SPM = r'$\mathrm{K^-p\rightarrow\pi^-\Sigma^+}$'
KM_SMP = r'$\mathrm{K^-p\rightarrow\pi^+\Sigma^-}$'
KM_S00 = r'$\mathrm{K^-p\rightarrow\pi^0\Sigma^0}$'
KL_S0 = r'$\mathrm{K_L^0p\rightarrow\pi^+\Sigma^0}$'

XSEC_LABEL = 'd$\\sigma$/dΩ  (mb/sr)'

# ---------------- figure ----------------
W, H = 2697, 1541
fig = plt.figure(figsize=(W / 100, H / 100), dpi=100)
fig.patch.set_facecolor('white')


def minus(v):
    return f'{v:.1f}'.replace('-', '\u2212')


def make_axes(l, r, t, b):
    return fig.add_axes([l / W, 1 - b / H, (r - l) / W, (b - t) / H])


def draw_panel(ax, blue, red, fit_x, fit_y):
    lw = 1.5
    for pts in (blue, red):
        if pts:
            x, y, e = np.array(pts).T
            ax.errorbar(x, y, yerr=e, fmt='none', ecolor='black', elinewidth=lw,
                        capsize=3, capthick=lw, zorder=2)
    ax.plot(fit_x, fit_y, color='black', lw=1.6, zorder=3)
    for pts, col in ((blue, 'blue'), (red, 'red')):
        if pts:
            x, y, e = np.array(pts).T
            ax.plot(x, y, 'o', color=col, ms=7, mec='none', zorder=4)


def dress(ax, yticks, yminor, ylabel, ylab_off, xlab_off, big=False, sans_y=None):
    tick_fs = 19.5 if big else 17
    lab_fs = 26 if big else 23
    ax.set_xlim(-1, 1)
    xt = [-1.0, -0.6, -0.2, 0.2, 0.6, 1.0]
    ax.set_xticks(xt, [minus(v) for v in xt])
    ax.xaxis.set_minor_locator(MultipleLocator(0.1))
    ax.set_yticks(yticks, [minus(v) for v in yticks])
    if isinstance(yminor, list):
        ax.yaxis.set_minor_locator(FixedLocator(yminor))
    else:
        ax.yaxis.set_minor_locator(MultipleLocator(yminor))
    ax.tick_params(which='both', direction='in', top=True, right=True, width=1.4,
                   labelsize=tick_fs, pad=12)
    ax.tick_params(which='major', length=7)
    ax.tick_params(which='minor', length=4)
    if sans_y is not None:
        # y numbers on these panels are set in a plain sans face, close to the frame
        ax.tick_params(axis='y', pad=sans_y)
        for lab in ax.get_yticklabels():
            lab.set_family('Liberation Sans')
            lab.set_fontsize(19)
    for s in ax.spines.values():
        s.set_linewidth(1.5)
    bb = ax.get_position()
    wpx, hpx = bb.width * W, bb.height * H
    ax.set_ylabel(ylabel, fontsize=lab_fs, va='center')
    ax.yaxis.set_label_coords(-ylab_off / wpx, 0.5)
    ax.set_xlabel('cos$\\theta$', fontsize=lab_fs, va='center')
    ax.xaxis.set_label_coords(0.5, -xlab_off / hpx)


def legend(ax, x, ys, energy, lines, fs=20.5):
    ax.text(x, ys[0], f'W = {energy} MeV', transform=ax.transAxes, va='center',
            ha='left', family='Liberation Mono', weight='bold', fontsize=fs, color='black')
    for yy, (txt, col) in zip(ys[1:], lines):
        ax.text(x, yy, txt, transform=ax.transAxes, va='center', ha='left',
                fontsize=fs, color=col)


# row 1
ax = make_axes(123, 653, 21, 397)
draw_panel(ax, p1_blue, p1_red, p1_fit_x, p1_fit_y)
ax.set_ylim(0, 1.2)
dress(ax, [0.0, 0.4, 0.8, 1.2], 0.1, XSEC_LABEL, 84, 58)
legend(ax, 0.371, (0.926, 0.816, 0.714), 1540, [(KL_LAM, 'red'), (KM_LAM, 'blue')])

ax = make_axes(798, 1328, 21, 397)
draw_panel(ax, p2_blue, p2_red, p2_fit_x, p2_fit_y)
ax.set_ylim(0, 1.2)
dress(ax, [0.0, 0.4, 0.8, 1.2], 0.1, XSEC_LABEL, 86, 58)
legend(ax, 0.372, (0.927, 0.814, 0.711), 1620, [(KL_LAM, 'red'), (KM_LAM, 'blue')])

ax = make_axes(1480, 1998, 23, 392)
draw_panel(ax, p3_blue, None, p3_fit_x, p3_fit_y)
ax.set_ylim(0, 1.2)
dress(ax, [0.0, 0.4, 0.8, 1.2], 0.1, XSEC_LABEL, 81, 60)
legend(ax, 0.372, (0.926, 0.817), 1660, [(KM_SPM, 'blue')])

ax = make_axes(2141, 2659, 23, 392)
draw_panel(ax, p4_blue, None, p4_fit_x, p4_fit_y)
ax.set_ylim(0, 1.2)
dress(ax, [0.0, 0.4, 0.8, 1.2], 0.1, XSEC_LABEL, 82, 60)
legend(ax, 0.372, (0.926, 0.817), 1660, [(KM_SMP, 'blue')])

# row 2
ax = make_axes(132, 661, 477, 856)
draw_panel(ax, p5_blue, p5_red, p5_fit_x, p5_fit_y)
ax.set_ylim(0, 1.0)
dress(ax, [0.0, 0.2, 0.4, 0.6, 0.8, 1.0], 0.05, XSEC_LABEL, 85, 57)
legend(ax, 0.373, (0.924, 0.818, 0.713), 1760, [(KL_LAM, 'red'), (KM_LAM, 'blue')])

ax = make_axes(788, 1319, 476, 855)
draw_panel(ax, p6_blue, p6_red, p6_fit_x, p6_fit_y)
ax.set_ylim(0, 0.5)
dress(ax, [0.1, 0.3, 0.5], 0.05, XSEC_LABEL, 68, 57, sans_y=5)
legend(ax, 0.372, (0.923, 0.815, 0.71), 1840, [(KL_LAM, 'red'), (KM_LAM, 'blue')])

# this panel's axis has uneven label spacing: 0.0, 0.1, 0.3, 0.5 at equal steps
ax = make_axes(1478, 1998, 470, 839)
ax.set_yscale('function', functions=(
    lambda v: np.interp(v, [0, 0.1, 0.3, 0.5], [0, 1, 2, 3]),
    lambda v: np.interp(v, [0, 1, 2, 3], [0, 0.1, 0.3, 0.5])))
draw_panel(ax, p7_blue, None, p7_fit_x, p7_fit_y)
ax.set_ylim(0, 0.5)
dress(ax, [0.0, 0.1, 0.3, 0.5],
      [0.025, 0.05, 0.075, 0.15, 0.2, 0.25, 0.35, 0.4, 0.45], XSEC_LABEL, 67, 60, sans_y=5)
legend(ax, 0.372, (0.926, 0.824), 1660, [(KM_S00, 'blue')])

ax = make_axes(2123, 2641, 471, 839)
draw_panel(ax, None, p8_red, p8_fit_x, p8_fit_y)
ax.set_ylim(0, 0.4)
dress(ax, [0.0, 0.1, 0.2, 0.3, 0.4], 0.05, XSEC_LABEL, 66, 60, sans_y=2)
legend(ax, 0.374, (0.929, 0.816), 1660, [(KL_S0, 'red')])

# row 3: polarization
for box, blue, red, fx, fy, lx, lys, en in (
        ((275, 873, 1032, 1457), p9_blue, p9_red, p9_fit_x, p9_fit_y, 0.609,
         (0.924, 0.817, 0.714), 1760),
        ((1055, 1653, 1032, 1457), p10_blue, p10_red, p10_fit_x, p10_fit_y, 0.033,
         (0.928, 0.83, 0.718), 1800)):
    ax = make_axes(*box)
    ax.axhline(0, color='black', lw=1.6, zorder=1)
    ax.axvline(0, color='black', lw=1.3, zorder=1)
    draw_panel(ax, blue, red, fx, fy)
    ax.set_ylim(-1, 1)
    dress(ax, [-1.0, -0.5, 0.0, 0.5, 1.0], 0.125, 'P', 120, 66, big=True)
    legend(ax, lx, lys, en, [(KL_LAM, 'red'), (KM_LAM, 'blue')], fs=23)

# annotations on the right
renderer = fig.canvas.get_renderer()
for s, x0, base, width in (('not well measured', 1838, 1075, 763),
                           ('recoil polarization', 1904, 1360, 756)):
    t = fig.text(x0 / W, 1 - base / H, s, fontsize=60, family='Lato', weight='bold',
                 color='#E8414B', ha='left', va='baseline')
    bb = t.get_window_extent(renderer)
    t.set_fontsize(60 * width / bb.width)

arrow = FancyArrowPatch((1876 / W, 1 - 1320 / H), (1670 / W, 1 - 1233 / H),
                        transform=fig.transFigure,
                        arrowstyle='simple,head_length=0.8,head_width=0.8,tail_width=0.17',
                        mutation_scale=30, color='#C4261D', lw=0)
fig.add_artist(arrow)

fig.savefig('out.png', dpi=100, facecolor='white')
